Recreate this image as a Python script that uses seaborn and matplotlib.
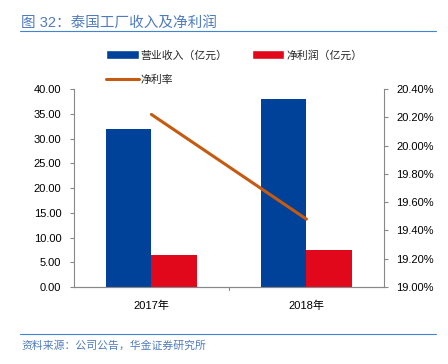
import pandas as pd
import numpy as np
import matplotlib.pyplot as plt
import seaborn as sns
from matplotlib.patches import Patch
from matplotlib.lines import Line2D

# Datos
years = ['2017年', '2018年']
revenue = [32.0, 38.0]        # 营业收入（亿元）
net_profit = [6.4, 7.4]       # 净利润（亿元）
net_margin = [20.22, 19.48]   # 净利率 (%)

bar_names = ['营业收入（亿元）', '净利润（亿元）']
colors = ['#00419A', '#E1081C']
line_color = '#C55A11'

sns.set_style('white')
plt.rcParams['font.family'] = ['Liberation Sans', 'Noto Sans CJK SC']

df = pd.DataFrame({
    'year': years * 2,
    'serie': [bar_names[0]] * 2 + [bar_names[1]] * 2,
    'valor': revenue + net_profit,
})

fig = plt.figure(figsize=(4.48, 3.64), dpi=100)
ax = fig.add_axes([0.165, 0.2115, 0.692, 0.544])

sns.barplot(data=df, x='year', y='valor', hue='serie', palette=colors,
            width=0.59, gap=0, ax=ax, legend=False, saturation=1,
            linewidth=0, edgecolor='none')
ax.set_ylim(0, 40)
ax.set_yticks(np.arange(0, 40.1, 5))
ax.set_yticklabels([f'{v:.2f}' for v in np.arange(0, 40.1, 5)])
ax.set_xlim(-0.5, 1.5)
ax.set_xlabel('')
ax.set_ylabel('')

# Eje secundario para el margen neto
ax2 = ax.twinx()
sns.lineplot(x=[0, 1], y=net_margin, color=line_color, linewidth=2.2, ax=ax2)
ax2.set_ylim(19.0, 20.4)
ticks2 = np.arange(19.0, 20.41, 0.2)
ax2.set_yticks(ticks2)
ax2.set_yticklabels([f'{v:.2f}%' for v in ticks2])
ax2.set_xlim(-0.5, 1.5)

for a in (ax, ax2):
    a.spines['top'].set_visible(False)
    for s in ['left', 'right', 'bottom']:
        a.spines[s].set_color('#888888')
        a.spines[s].set_linewidth(0.8)
    a.tick_params(axis='both', labelsize=8, colors='black', length=3,
                  width=0.8, color='#888888', pad=6)
ax.spines['right'].set_visible(False)
ax2.spines['left'].set_visible(False)
ax.tick_params(axis='x', length=0, pad=10)
ax.set_xticks([0, 0.5, 1], labels=[years[0], '', years[1]])
ax.tick_params(axis='y', left=True)
ax2.tick_params(axis='y', right=True)

# Marca central del eje x
ax.plot([0.5, 0.5], [0, -0.6], color='#888888', lw=0.8, clip_on=False)

# Leyenda
h1 = [Patch(facecolor=colors[0]), Patch(facecolor=colors[1])]
fig.legend(h1, bar_names, loc='center left', bbox_to_anchor=(0.215, 0.848),
           ncol=2, frameon=False, fontsize=7.8, handlelength=3.0,
           handleheight=0.9, handletextpad=0.2, columnspacing=2.2)
h2 = [Line2D([0], [0], color=line_color, lw=2.2)]
fig.legend(h2, ['净利率'], loc='center left', bbox_to_anchor=(0.215, 0.78),
           frameon=False, fontsize=7.8, handlelength=3.0, handletextpad=0.2)

# Titulo y fuente
title_color = '#4F7CBF'
fig.text(0.047, 0.937, '图 32：泰国工厂收入及净利润', fontsize=10.5,
         color=title_color, va='center', ha='left')
fig.add_artist(Line2D([0.045, 0.973], [0.914, 0.914], color='#3D86D1', lw=0.8))
fig.add_artist(Line2D([0.045, 0.973], [0.083, 0.083], color='#3D86D1', lw=0.8))
fig.text(0.047, 0.05, '资料来源：公司公告，华金证券研究所', fontsize=7.8,
         color=title_color, style='italic', va='center', ha='left')

fig.savefig('out.png', dpi=100)
